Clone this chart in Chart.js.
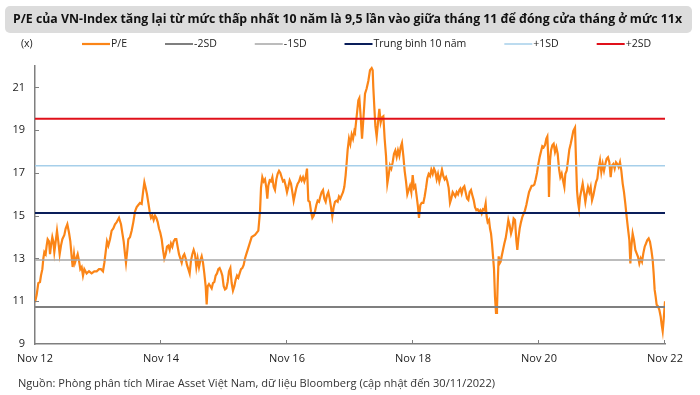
<!DOCTYPE html>
<html><head><meta charset="utf-8">
<script src="https://cdn.jsdelivr.net/npm/chart.js@4.4.1/dist/chart.umd.min.js"></script>
<style>html,body{margin:0;padding:0;background:#fff}#wrap{position:relative;width:700px;height:395px}</style>
</head><body><div id="wrap"><canvas id="c" width="700" height="395"></canvas></div>
<script>
const titleText = 'P/E của VN-Index tăng lại từ mức thấp nhất 10 năm là 9,5 lần vào giữa tháng 11 để đóng cửa tháng ở mức 11x';
const sourceText = 'Nguồn: Phòng phân tích Mirae Asset Việt Nam, dữ liệu Bloomberg (cập nhật đến 30/11/2022)';
const unitLabel = '(x)';
const xTickMonths = [0, 24, 48, 72, 96, 120];          // months since Nov 2012
const xTickLabels = ['Nov 12', 'Nov 14', 'Nov 16', 'Nov 18', 'Nov 20', 'Nov 22'];
const yTicks = [9, 11, 13, 15, 17, 19, 21];
const bandLabels = ['-2SD', '-1SD', 'Trung bình 10 năm', '+1SD', '+2SD'];
const bandValues = [10.73, 12.93, 15.13, 17.33, 19.53];
const seriesLabel = 'P/E';

// P/E readings: [months since Nov 2012, P/E]
const pe2013 = [[0,10.95],[0.32,11.3],[0.63,11.85],[0.95,11.9],[1.14,12.2],[1.40,12.5],[1.59,13.0],[1.78,13.3],[2.03,13.2],[2.22,13.6],[2.41,13.9],[2.67,13.8],[2.86,13.2],[3.05,13.6],[3.30,14.0],[3.49,13.8],[3.68,13.3],[3.94,13.8],[4.19,14.3],[4.44,13.8],[4.70,13.2],[4.95,13.6],[5.21,13.9],[5.59,14.1],[5.84,14.4],[6.16,14.6],[6.48,14.2],[6.73,13.8],[6.98,13.1],[7.17,12.6],[7.43,13.2],[7.62,12.8],[7.87,13.0],[8.13,13.2],[8.38,12.9],[8.63,12.5],[8.89,12.6],[9.14,12.2],[9.40,12.5],[9.84,12.3],[10.29,12.4],[10.79,12.3],[11.30,12.4],[11.75,12.4],[12.19,12.5],[12.57,12.5],[12.95,12.4],[13.21,12.8],[13.46,13.3],[13.71,13.8],[13.97,13.6],[14.29,13.9],[14.60,14.3],[14.92,14.4],[15.24,14.6],[15.56,14.7],[16.00,14.9],[16.38,14.6],[16.63,14.2],[16.89,13.8],[17.14,13.2],[17.33,12.8],[17.59,13.4],[17.78,13.9],[18.10,14.0],[18.41,14.3],[18.73,14.7],[19.05,15.2],[19.37,15.4],[19.68,15.5]];
const pe2015 = [[20.0,15.6],[20.32,15.55],[20.63,16.2],[20.83,16.56],[21.08,16.3],[21.33,16.0],[21.59,15.6],[21.84,15.2],[22.10,14.9],[22.35,15.0],[22.60,14.8],[22.86,15.0],[23.11,14.9],[23.37,14.7],[23.62,14.4],[23.87,14.2],[24.13,13.9],[24.38,13.4],[24.63,13.0],[24.89,13.2],[25.14,13.55],[25.40,13.6],[25.65,13.4],[25.90,13.7],[26.16,13.55],[26.41,13.8],[26.67,13.9],[26.92,13.9],[27.17,13.55],[27.43,13.2],[27.68,13.0],[27.94,12.8],[28.19,13.1],[28.44,13.2],[28.70,13.0],[28.95,12.7],[29.21,12.5],[29.46,12.3],[29.71,12.9],[29.97,13.2],[30.22,13.4],[30.48,13.2],[30.73,12.6],[30.98,13.0],[31.24,12.6],[31.49,12.9],[31.75,13.1],[32.00,12.8],[32.25,12.3],[32.51,11.7],[32.70,10.85],[32.89,11.7],[33.14,11.8],[33.40,11.7],[33.65,11.6],[33.90,11.85],[34.16,11.9],[34.41,12.2],[34.67,12.3],[34.92,12.5],[35.17,12.55],[35.43,12.4],[35.68,12.2],[35.94,11.7],[36.19,11.55],[36.44,11.6],[36.70,11.9],[36.95,12.4],[37.21,12.55],[37.46,11.85],[37.71,11.5],[37.97,11.7],[38.22,12.0],[38.48,12.2],[38.73,12.1],[38.98,12.3],[39.24,12.5],[39.49,12.55],[39.75,12.7],[40.00,13.0],[40.25,13.2],[40.51,13.4],[40.76,13.6]];
const pe2017 = [[41.27,14.0],[41.90,14.1],[42.54,14.3],[42.86,15.2],[43.05,16.3],[43.30,16.8],[43.56,16.6],[43.81,16.7],[44.06,16.3],[44.25,15.8],[44.44,16.4],[44.70,16.65],[44.95,16.6],[45.21,16.8],[45.46,16.35],[45.71,16.2],[45.97,16.7],[46.22,16.96],[46.48,17.1],[46.73,17.0],[46.98,16.8],[47.24,16.6],[47.49,16.65],[47.75,16.4],[48.00,16.1],[48.25,16.35],[48.51,16.65],[48.76,16.5],[49.02,16.1],[49.27,15.7],[49.52,16.0],[49.78,16.3],[50.03,16.5],[50.29,16.6],[50.54,16.8],[50.79,16.65],[51.05,16.8],[51.30,16.6],[51.56,16.8],[51.81,17.2],[52.06,15.7],[52.32,15.65],[52.57,15.2],[52.83,14.9],[53.08,15.0],[53.33,15.2],[53.59,15.5],[53.84,15.7],[54.10,15.65],[54.35,15.9],[54.60,16.1],[54.86,16.2],[55.11,15.8],[55.37,15.65],[55.62,15.95],[55.87,16.1],[56.13,15.8],[56.38,15.4],[56.63,14.96],[56.89,15.4],[57.14,15.65],[57.40,15.7],[57.65,15.65],[57.90,15.9],[58.16,15.8],[58.41,15.95],[58.67,16.1],[58.92,16.35],[59.17,16.9],[59.37,17.5],[59.56,18.1],[59.81,18.6],[60.06,18.35],[60.32,18.8],[60.57,18.6],[60.83,18.96]];
const pe2019 = [[60.95,18.9],[61.27,19.65],[61.59,20.4],[61.78,20.5],[62.03,19.65],[62.29,18.6],[62.54,19.5],[62.86,20.7],[63.17,20.95],[63.49,21.3],[63.81,21.8],[64.13,21.9],[64.32,21.8],[64.44,21.0],[64.63,20.1],[64.83,19.2],[65.08,18.7],[65.33,19.35],[65.59,20.0],[65.84,19.35],[66.10,19.6],[66.35,19.65],[66.60,18.6],[66.86,17.8],[67.11,16.5],[67.37,16.9],[67.62,17.35],[67.87,17.2],[68.13,17.5],[68.38,17.9],[68.63,18.05],[68.89,17.75],[69.14,18.05],[69.40,17.8],[69.65,18.2],[69.90,18.4],[70.16,17.8],[70.41,17.1],[70.67,16.6],[70.92,16.0],[71.17,16.2],[71.43,16.4],[71.68,16.1],[71.94,16.9],[72.19,16.3],[72.44,16.4],[72.70,15.9],[72.95,15.4],[73.14,14.9],[73.40,15.5],[73.65,15.6],[73.97,15.6],[74.22,15.9],[74.48,16.3],[74.73,16.75],[74.98,16.95],[75.24,16.85],[75.49,17.15],[75.75,16.95],[76.00,17.2],[76.25,17.05],[76.51,16.7],[76.76,16.95],[77.02,16.6],[77.27,16.85],[77.52,17.15],[77.78,16.85],[78.03,16.7],[78.29,16.8],[78.54,16.6],[78.79,16.3],[79.05,15.6],[79.30,15.8],[79.56,16.1],[79.81,16.0],[80.06,15.9],[80.32,16.1],[80.57,16.0],[80.83,16.2]];
const pe2021 = [[81.02,16.27],[81.27,16.04],[81.52,16.3],[81.78,16.38],[82.03,16.1],[82.29,15.8],[82.54,15.73],[82.79,16.1],[83.05,16.2],[83.30,15.96],[83.56,15.73],[83.81,15.4],[84.06,15.26],[84.32,15.3],[84.57,15.18],[84.83,15.26],[85.08,15.1],[85.33,15.3],[85.59,15.26],[85.84,15.57],[86.03,14.95],[86.22,14.7],[86.48,14.8],[86.67,14.4],[86.86,14.17],[87.05,13.7],[87.24,13.1],[87.43,12.5],[87.62,11.2],[87.81,10.45],[88.00,10.7],[88.13,11.8],[88.32,13.1],[88.51,12.77],[88.70,12.85],[88.89,13.1],[89.14,13.4],[89.40,13.7],[89.65,13.94],[89.90,14.33],[90.16,14.8],[90.41,14.56],[90.67,14.17],[90.92,14.4],[91.17,14.87],[91.43,14.8],[91.68,13.86],[91.87,13.4],[92.06,13.9],[92.32,14.4],[92.57,14.7],[92.83,14.95],[93.08,15.1],[93.33,15.25],[93.59,15.5],[93.84,15.8],[94.10,16.1],[94.35,16.25],[94.60,16.4],[94.86,16.4],[95.11,16.45],[95.37,16.7],[95.62,17.0],[95.87,17.4],[96.13,17.75],[96.38,18.0],[96.63,18.25],[96.89,18.2],[97.14,18.3],[97.40,18.6],[97.59,18.7],[97.78,17.6],[97.90,15.88],[98.10,17.59],[98.29,18.05],[98.54,18.29],[98.79,18.36],[99.05,17.98],[99.30,18.2],[99.56,17.9],[99.81,17.2],[100.06,16.8],[100.32,16.97],[100.57,16.66],[100.83,16.35]];
const pe2022 = [[101.02,16.96],[101.27,17.1],[101.52,17.58],[101.78,18.1],[102.03,18.35],[102.29,18.66],[102.54,18.97],[102.86,19.12],[103.05,17.58],[103.24,16.18],[103.43,15.64],[103.62,15.33],[103.81,15.87],[104.06,16.18],[104.32,16.5],[104.57,16.1],[104.83,15.64],[105.08,16.03],[105.33,16.34],[105.59,16.1],[105.84,16.34],[106.10,15.72],[106.35,15.95],[106.60,16.26],[106.86,16.57],[107.11,16.73],[107.37,17.27],[107.62,17.58],[107.87,17.04],[108.13,17.42],[108.38,17.11],[108.63,17.42],[108.89,17.66],[109.14,17.73],[109.40,17.5],[109.65,16.8],[109.90,17.35],[110.16,17.42],[110.41,17.2],[110.67,17.5],[110.92,17.42],[111.17,17.27],[111.43,17.5],[111.68,17.11],[111.94,16.5],[112.19,16.1],[112.44,15.56],[112.70,14.94],[112.95,14.4],[113.21,13.86],[113.40,12.77],[113.59,13.55],[113.84,14.17],[114.10,13.86],[114.35,13.4],[114.60,13.24],[114.86,13.08],[115.11,12.77],[115.37,13.0],[115.62,12.85],[115.87,13.24],[116.13,13.55],[116.38,13.7],[116.63,13.86],[116.89,13.94],[117.14,13.78],[117.40,13.4],[117.65,12.93],[117.84,12.3],[118.03,11.53],[118.22,11.22],[118.41,10.83],[118.67,10.76],[118.92,10.6],[119.17,10.29],[119.37,9.9],[119.56,9.6],[119.75,10.14],[119.88,10.6],[120.0,11.0]];

const peData = [...pe2013, ...pe2015, ...pe2017, ...pe2019, ...pe2021, ...pe2022].map(([m, v]) => ({x: m, y: v}));
const bandColors = ['#7F7F7F', '#A6A6A6', '#0A1E5A', '#A6CFEA', '#E0101A'];
const bandWidths = [2, 1.5, 2, 1.5, 2];

const FONT = '"Open Sans", "Noto Sans", sans-serif';

const deco = {
  id: 'deco',
  beforeDraw(chart) {
    const ctx = chart.ctx;
    ctx.save();
    ctx.fillStyle = '#fff';
    ctx.fillRect(0, 0, chart.width, chart.height);
    ctx.fillStyle = '#DCDCDC';
    ctx.beginPath();
    ctx.roundRect(5, 6, 687, 27, 5);
    ctx.fill();
    ctx.font = 'bold 13px ' + FONT;
    ctx.fillStyle = '#111';
    ctx.textBaseline = 'middle';
    const w = ctx.measureText(titleText).width;
    ctx.translate(13, 19.5);
    ctx.scale(669 / w, 1);
    ctx.fillText(titleText, 0, 0);
    ctx.restore();
  },
  afterDraw(chart) {
    const ctx = chart.ctx;
    const xs = chart.scales.x, ys = chart.scales.y;
    ctx.save();
    // inner tick marks
    ctx.strokeStyle = '#7F7F7F';
    ctx.lineWidth = 1;
    xTickMonths.slice(1).forEach(m => {
      const px = Math.round(xs.getPixelForValue(m)) - 0.5;
      ctx.beginPath(); ctx.moveTo(px, ys.bottom); ctx.lineTo(px, ys.bottom - 4); ctx.stroke();
    });
    yTicks.slice(1).forEach(v => {
      const py = Math.round(ys.getPixelForValue(v)) + 0.5;
      ctx.beginPath(); ctx.moveTo(xs.left, py); ctx.lineTo(xs.left + 4, py); ctx.stroke();
    });
    // legend
    const ly = 44;
    ctx.font = '10.5px ' + FONT;
    ctx.textBaseline = 'middle';
    ctx.fillStyle = '#222';
    ctx.fillText(unitLabel, 21, ly);
    let lx = 82;
    chart.data.datasets.forEach(ds => {
      ctx.strokeStyle = ds.borderColor;
      ctx.lineWidth = ds.borderWidth;
      ctx.beginPath(); ctx.moveTo(lx, ly); ctx.lineTo(lx + 28, ly); ctx.stroke();
      ctx.fillText(ds.label, lx + 29, ly);
      lx += 29 + ctx.measureText(ds.label).width + 38;
    });
    // source
    ctx.font = '11px ' + FONT;
    ctx.fillStyle = '#333';
    const sw = ctx.measureText(sourceText).width;
    ctx.translate(18, 384);
    ctx.scale(477 / sw, 1);
    ctx.fillText(sourceText, 0, 0);
    ctx.restore();
  }
};

const datasets = [{
  label: seriesLabel,
  data: peData,
  borderColor: '#FB8517',
  borderWidth: 2.2,
  pointRadius: 0,
  tension: 0,
  order: 1
}].concat(bandLabels.map((lab, i) => ({
  label: lab,
  data: [{x: xTickMonths[0], y: bandValues[i]}, {x: xTickMonths[xTickMonths.length - 1], y: bandValues[i]}],
  borderColor: bandColors[i],
  borderWidth: bandWidths[i],
  pointRadius: 0,
  order: 0
})));

new Chart(document.getElementById('c'), {
  type: 'line',
  data: {datasets},
  plugins: [deco],
  options: {
    responsive: false,
    animation: false,
    layout: {padding: {top: 66, right: 35, left: 0, bottom: 0}},
    plugins: {legend: {display: false}, tooltip: {enabled: false}, title: {display: false}},
    scales: {
      x: {
        type: 'linear', min: 0, max: 120,
        afterBuildTicks: s => { s.ticks = xTickMonths.map(v => ({value: v})); },
        afterFit: s => { s.height = 51; },
        ticks: {
          autoSkip: false, maxRotation: 0, padding: 8,
          color: '#222', font: {family: FONT, size: 11},
          callback: v => xTickLabels[xTickMonths.indexOf(v)]
        },
        grid: {drawOnChartArea: false, drawTicks: false},
        border: {display: true, color: '#7F7F7F', width: 1.5}
      },
      y: {
        min: 9, max: 22,
        afterBuildTicks: s => { s.ticks = yTicks.map(v => ({value: v})); },
        afterFit: s => { s.width = 35; },
        ticks: {padding: 10, color: '#222', font: {family: FONT, size: 11}},
        grid: {drawOnChartArea: false, drawTicks: false},
        border: {display: true, color: '#7F7F7F', width: 1.5}
      }
    }
  }
});
</script></body></html>
